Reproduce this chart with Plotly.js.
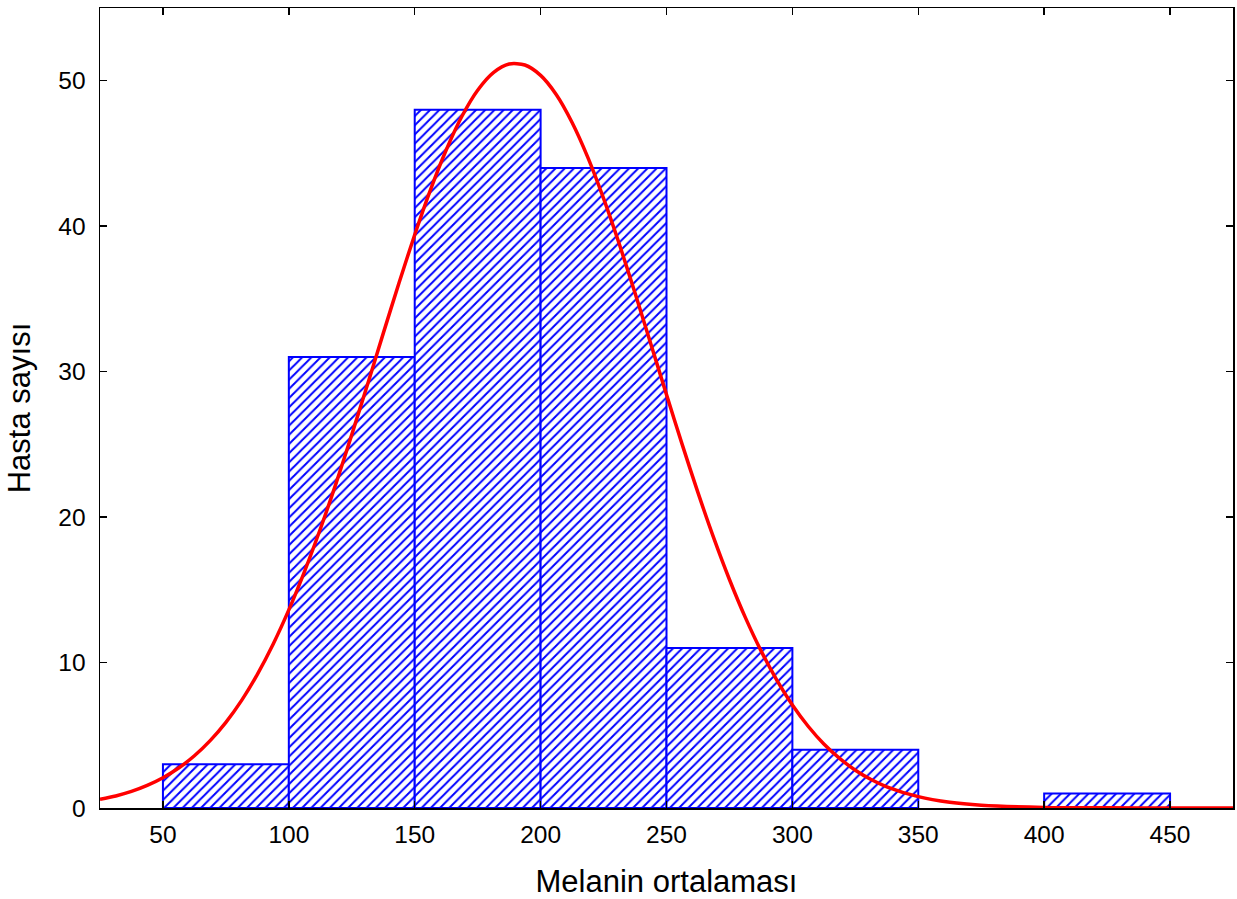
<!DOCTYPE html>
<html>
<head>
<meta charset="utf-8">
<script src="https://cdn.plot.ly/plotly-3.0.1.min.js"></script>
<style>html,body{margin:0;padding:0;background:#fff;}#chart{width:1237px;height:899px;}</style>
</head>
<body>
<div id="chart"></div>
<script>
// Histogram bins (centers), counts
const binCenters = [75, 125, 175, 225, 275, 325, 375, 425];
const binCounts = [3, 31, 48, 44, 11, 4, 0, 1];
const binWidth = 50;

// Fitted normal curve points
const curveX = [25, 31.25, 37.5, 43.75, 50, 56.25, 62.5, 68.75, 75, 81.25, 87.5, 93.75, 100, 106.25, 112.5, 118.75, 125, 131.25, 137.5, 143.75, 150, 156.25, 162.5, 168.75, 175, 181.25, 187.5, 193.75, 200, 206.25, 212.5, 218.75, 225, 231.25, 237.5, 243.75, 250, 256.25, 262.5, 268.75, 275, 281.25, 287.5, 293.75, 300, 306.25, 312.5, 318.75, 325, 331.25, 337.5, 350, 362.5, 375, 400, 425, 450, 475];
const curveY = [0.60, 0.83, 1.14, 1.55, 2.08, 2.75, 3.59, 4.63, 5.89, 7.40, 9.19, 11.26, 13.62, 16.27, 19.18, 22.32, 25.67, 29.12, 32.63, 36.09, 39.41, 42.50, 45.24, 47.56, 49.35, 50.56, 51.15, 51.08, 50.37, 49.04, 47.13, 44.73, 41.91, 38.77, 35.40, 31.92, 28.42, 24.98, 21.68, 18.57, 15.71, 13.12, 10.82, 8.81, 7.08, 5.62, 4.40, 3.41, 2.60, 1.96, 1.46, 0.78, 0.39, 0.19, 0.04, 0.01, 0, 0];

const xTicks = [50, 100, 150, 200, 250, 300, 350, 400, 450];
const yTicks = [0, 10, 20, 30, 40, 50];

const xTitle = 'Melanin ortalaması';
const yTitle = 'Hasta sayısı';

const bx = [], by = [];
binCenters.forEach((c, i) => { if (binCounts[i] > 0) { bx.push(c); by.push(binCounts[i]); } });

const bars = {
  type: 'bar', x: bx, y: by, width: binWidth,
  marker: {
    color: '#ffffff',
    line: {color: '#0000ff', width: 2},
    pattern: {shape: '/', fgcolor: '#0000ff', bgcolor: '#ffffff', size: 6.5, solidity: 0.3}
  },
  hoverinfo: 'skip'
};
const curve = {
  type: 'scatter', mode: 'lines', x: curveX, y: curveY,
  line: {color: '#ff0000', width: 3.5, shape: 'spline', smoothing: 0.8},
  hoverinfo: 'skip'
};

const ff = 'Liberation Sans, Arial, sans-serif';
const layout = {
  width: 1237, height: 899,
  margin: {l: 100, r: 4, t: 8, b: 91},
  paper_bgcolor: '#fff', plot_bgcolor: '#fff',
  showlegend: false,
  font: {family: ff, color: '#000'},
  bargap: 0,
  xaxis: {
    range: [25, 475], tickvals: xTicks, ticktext: xTicks.map(String),
    ticks: 'inside', ticklen: 7, tickwidth: 1.5, tickcolor: '#000',
    showline: true, linecolor: '#000', linewidth: 1.5, mirror: 'ticks',
    showgrid: false, zeroline: false, automargin: false,
    ticklabelstandoff: 4,
    tickfont: {family: ff, size: 24.5, color: '#000'},
    title: {text: xTitle, font: {family: ff, size: 31, color: '#000'}, standoff: 26}
  },
  yaxis: {
    range: [0, 55], tickvals: yTicks, ticktext: yTicks.map(String),
    ticks: 'inside', ticklen: 7, tickwidth: 1.5, tickcolor: '#000',
    showline: true, linecolor: '#000', linewidth: 1.5, mirror: 'ticks',
    showgrid: false, zeroline: false, automargin: false,
    ticklabelstandoff: 8,
    tickfont: {family: ff, size: 24.5, color: '#000'},
    title: {text: yTitle, font: {family: ff, size: 31, color: '#000'}, standoff: 18}
  }
};
Plotly.newPlot('chart', [bars, curve], layout, {displayModeBar: false, staticPlot: true});
</script>
</body>
</html>
